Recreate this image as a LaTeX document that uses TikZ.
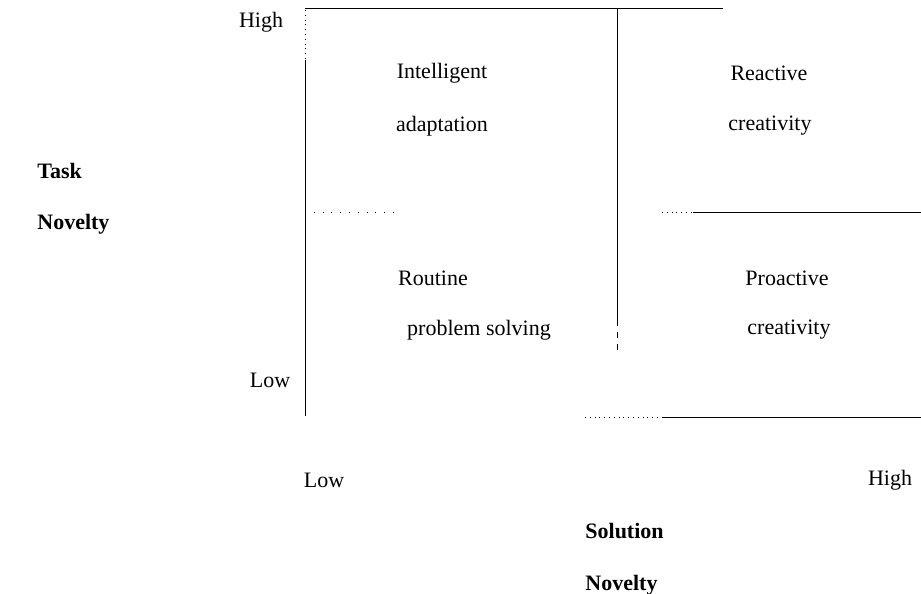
\documentclass[tikz,border=0pt]{standalone}
\usepackage{fontspec}
\setmainfont{Liberation Serif}
\begin{document}
\begin{tikzpicture}[x=0.5pt,y=-0.5pt,every node/.style={font=\fontsize{11}{13}\selectfont,inner sep=0pt}]
        \useasboundingbox (0,0) rectangle (921,594);
        %% Frame lines
        \draw[thin,dotted] (305,10) -- (305,60);
        \draw[thin] (305,60) -- (305,416);
        \draw[thin] (305,8) -- (723,8);
        \draw[thin] (617,8) -- (617,320);
        \draw[thin,dashed] (617,320) -- (617,355);
        %% Middle lines
        \draw[thin,loosely dotted] (305,212) -- (400,212);
        \draw[thin,dotted] (662,212) -- (693,212);
        \draw[thin] (693,212) -- (921,212);
        %% Bottom line
        \draw[thin,dotted] (585,417) -- (663,417);
        \draw[thin] (663,417) -- (921,417);
        %% Quadrant labels
        \node (ia1) at (442,73) {Intelligent};
        \node (ia2) at (442,126) {adaptation};
        \node (rc1) at (769,73) {Reactive};
        \node (rc2) at (770,126) {creativity};
        \node (rp1) at (433,278) {Routine};
        \node (rp2) at (479,330) {problem solving};
        \node (pc1) at (787,278) {Proactive};
        \node (pc2) at (789,330) {creativity};
        %% Task axis
        \node (thigh) at (261,22) {High};
        \node (tlow) at (270,380) {Low};
        \node[anchor=west,font=\fontsize{11}{13}\selectfont\bfseries] (task1) at (37,171) {Task};
        \node[anchor=west,font=\fontsize{11}{13}\selectfont\bfseries] (task2) at (37,224) {Novelty};
        %% Solution axis
        \node (slow) at (324,480) {Low};
        \node (shigh) at (890,480) {High};
        \node[anchor=west,font=\fontsize{11}{13}\selectfont\bfseries] (sol1) at (585,531) {Solution};
        \node[anchor=west,font=\fontsize{11}{13}\selectfont\bfseries] (sol2) at (585,585) {Novelty};
    \end{tikzpicture}
\end{document}
